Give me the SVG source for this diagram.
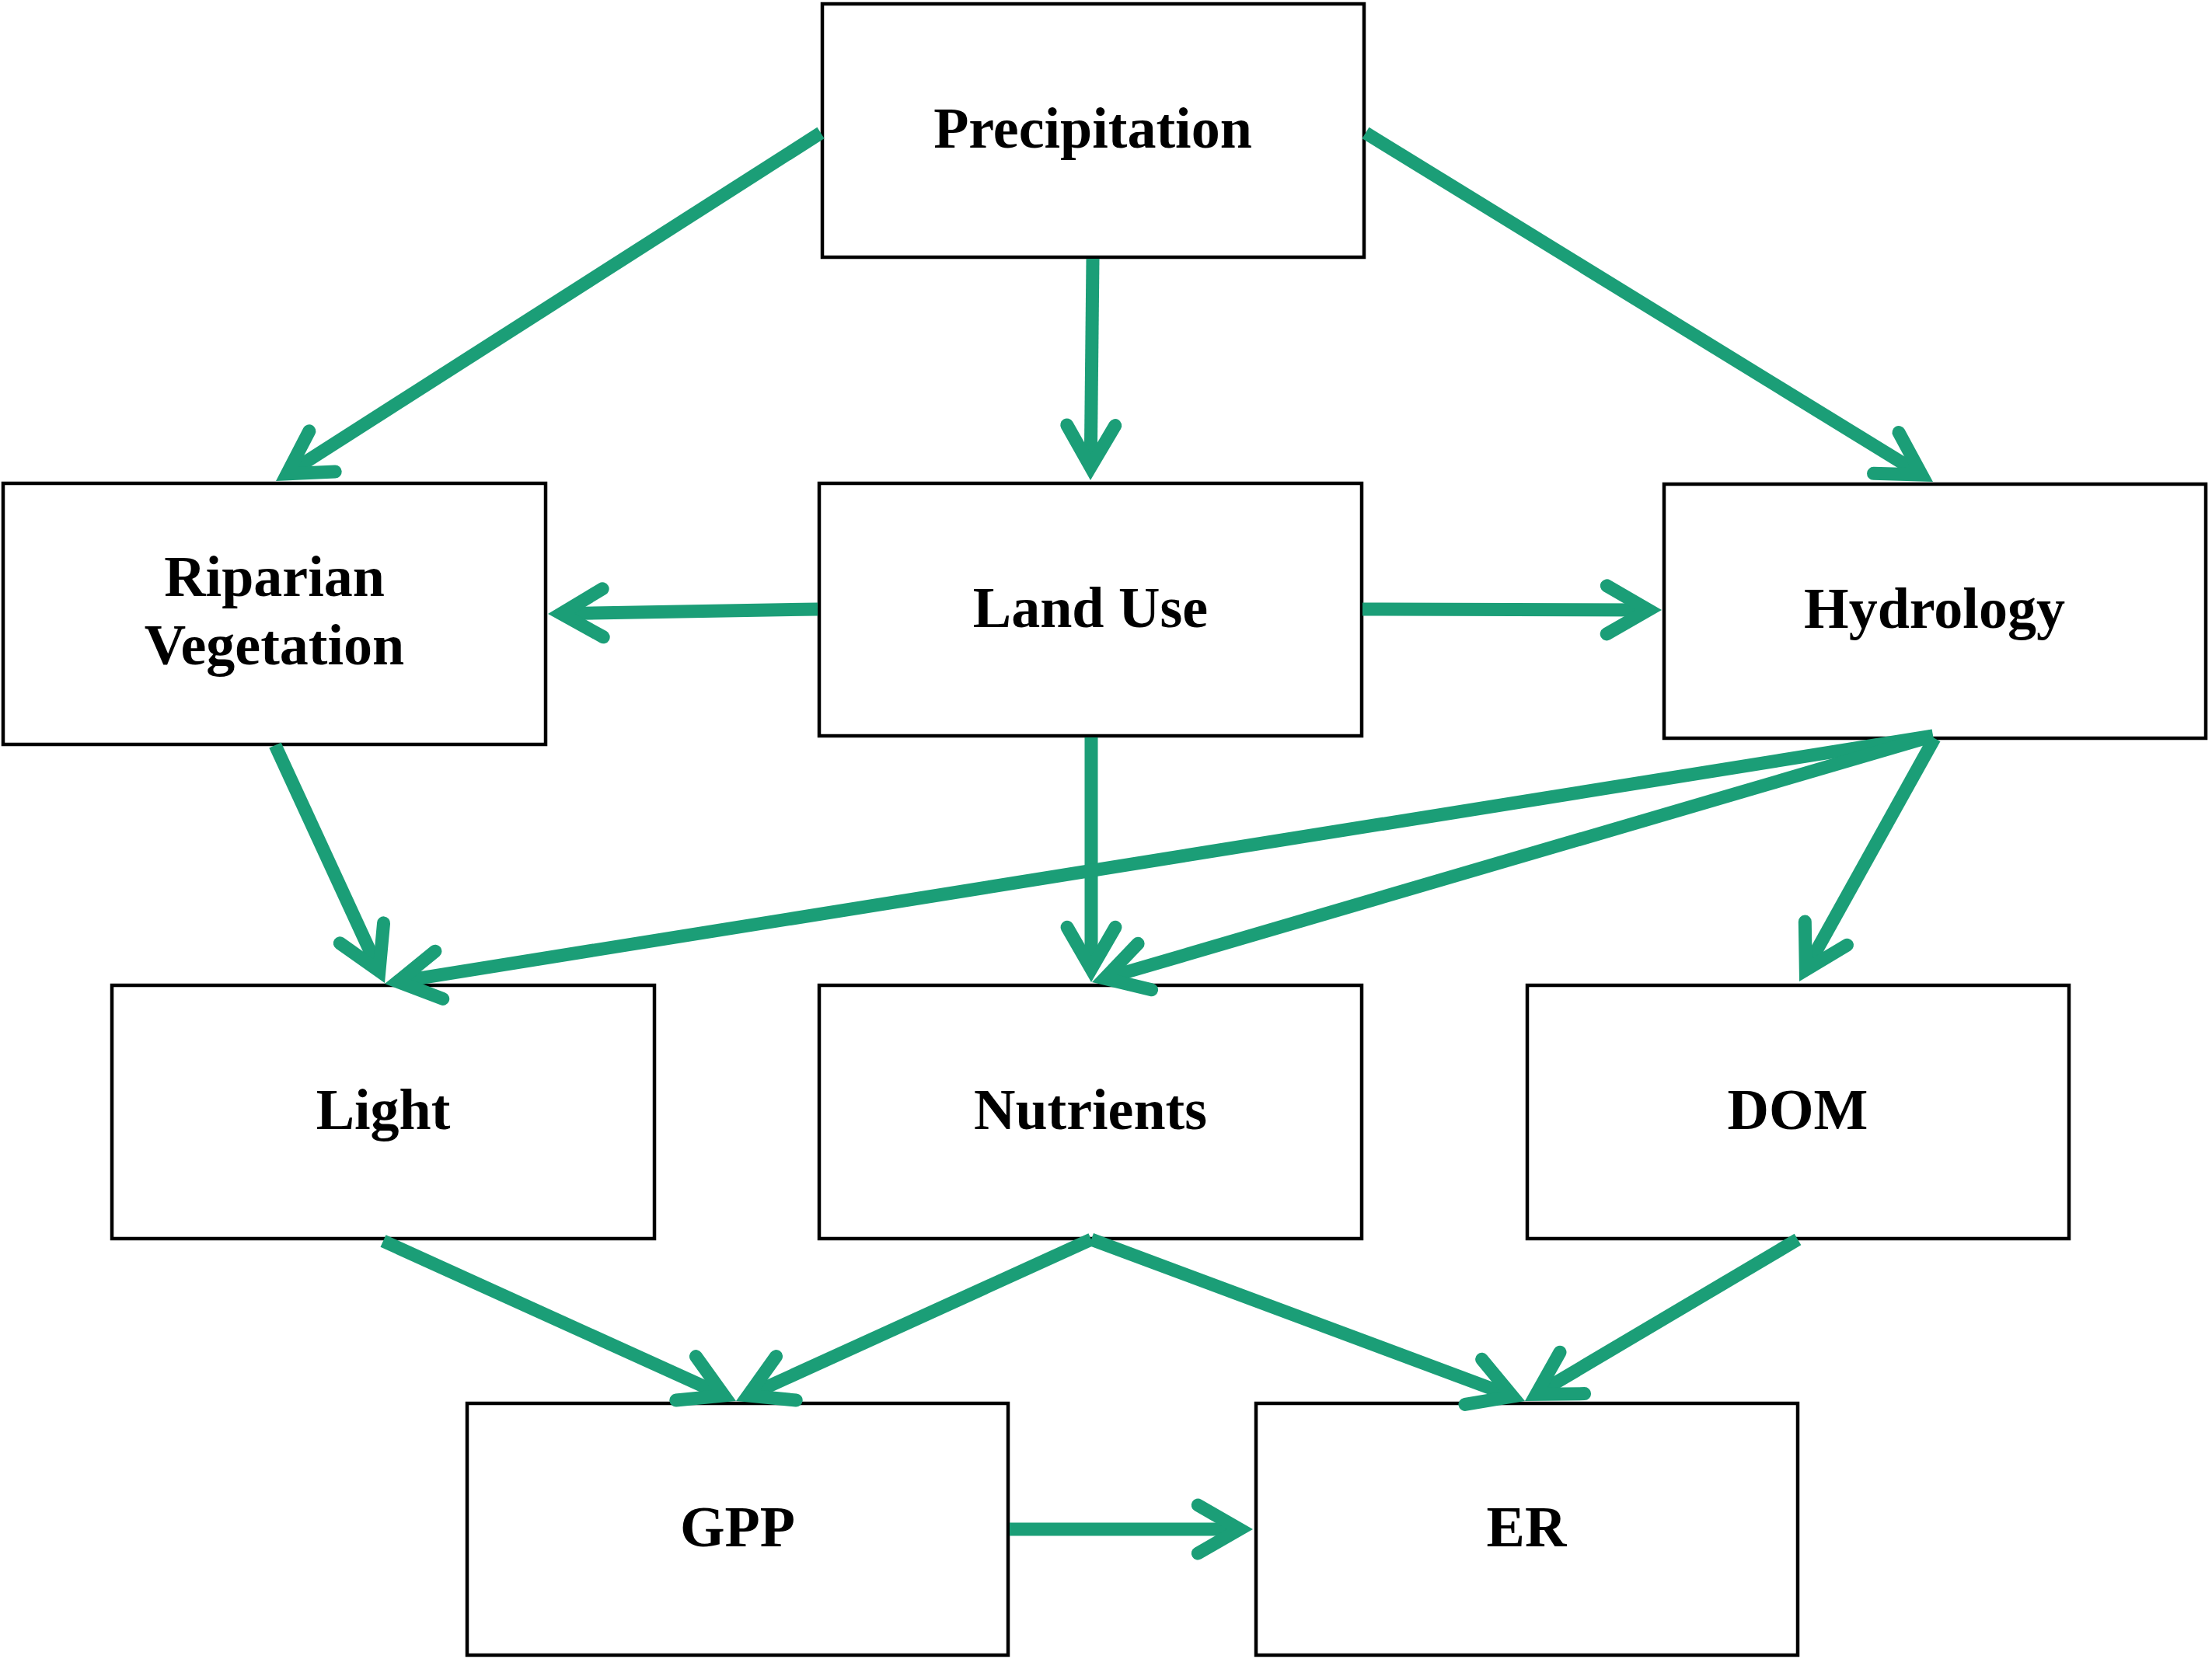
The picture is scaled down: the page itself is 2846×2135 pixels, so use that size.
<svg xmlns="http://www.w3.org/2000/svg" width="2846" height="2135" viewBox="0 0 2846 2135">
<style>
.box{fill:#fff;stroke:#000;stroke-width:4.5}
.lbl{font-family:"Liberation Serif","Times New Roman",serif;font-weight:bold;font-size:74px;fill:#000;text-anchor:middle}
.con line{stroke:#1b9e77;stroke-width:17;stroke-linecap:butt;marker-end:url(#ah)}
</style>
<defs>
<marker id="ah" markerUnits="userSpaceOnUse" viewBox="-80 -50 110 100" refX="0" refY="0" markerWidth="110" markerHeight="100" orient="auto" overflow="visible">
<path d="M-53.7,-31 L0,0 L-53.7,31" fill="none" stroke="#1b9e77" stroke-width="17" stroke-linecap="round" stroke-linejoin="miter" stroke-miterlimit="4"/>
</marker>
</defs>
<rect width="2846" height="2135" fill="#fff"/>
<g id="precipitation"><rect class="box" x="1058" y="5" width="697" height="326"/><text class="lbl" x="1406" y="190">Precipitation</text></g>
<g id="riparian"><rect class="box" x="4" y="622" width="698" height="336"/><text class="lbl" x="353" y="767">Riparian</text><text class="lbl" x="353" y="855">Vegetation</text></g>
<g id="landuse"><rect class="box" x="1054" y="622" width="698" height="325"/><text class="lbl" x="1403" y="807">Land Use</text></g>
<g id="hydrology"><rect class="box" x="2141" y="623" width="697" height="327"/><text class="lbl" x="2489" y="808">Hydrology</text></g>
<g id="light"><rect class="box" x="144" y="1268" width="698" height="326"/><text class="lbl" x="493" y="1453">Light</text></g>
<g id="nutrients"><rect class="box" x="1054" y="1268" width="698" height="326"/><text class="lbl" x="1403" y="1453">Nutrients</text></g>
<g id="dom"><rect class="box" x="1965" y="1268" width="697" height="326"/><text class="lbl" x="2313" y="1453">DOM</text></g>
<g id="gpp"><rect class="box" x="601" y="1806" width="696" height="324"/><text class="lbl" x="949" y="1990">GPP</text></g>
<g id="er"><rect class="box" x="1616" y="1806" width="697" height="324"/><text class="lbl" x="1964" y="1990">ER</text></g>
<g id="connectors" class="con">
<line x1="1056" y1="171" x2="369.3" y2="609.8"/>
<line x1="1406" y1="333" x2="1403.2" y2="601"/>
<line x1="1757" y1="171" x2="2472.5" y2="611.1"/>
<line x1="1052" y1="784" x2="722" y2="789.7"/>
<line x1="1753" y1="784" x2="2121" y2="785"/>
<line x1="1404" y1="949" x2="1404" y2="1247"/>
<line x1="354" y1="959" x2="487.9" y2="1249.6"/>
<line x1="2487" y1="947" x2="511.8" y2="1263.3"/>
<line x1="2487" y1="947" x2="1421.3" y2="1259.2"/>
<line x1="2489" y1="950" x2="2323.3" y2="1248.1"/>
<line x1="493" y1="1597" x2="931.5" y2="1796"/>
<line x1="1404" y1="1595" x2="962.5" y2="1796"/>
<line x1="1404" y1="1595" x2="1946.1" y2="1797.1"/>
<line x1="2313" y1="1595" x2="1976.6" y2="1794.3"/>
<line x1="1299" y1="1968" x2="1595" y2="1968"/>
</g>
</svg>
